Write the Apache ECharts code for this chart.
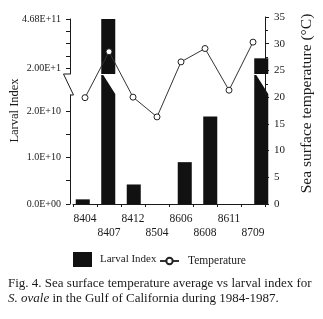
<!DOCTYPE html>
<html>
<head>
<meta charset="utf-8">
<script src="https://cdn.jsdelivr.net/npm/echarts@6/dist/echarts.min.js"></script>
<style>
html,body{margin:0;padding:0;background:#fff;}
#c{width:323px;height:319px;}
</style>
</head>
<body>
<div id="c"></div>
<script>
// ---- data ----
var categories = ['8404','8407','8412','8504','8606','8608','8611','8709'];
var larvalIndex = [1.0e9, 4.68e11, 4.2e9, 0, 9.0e9, 1.88e10, 0, 2.53e11];
var temperature = [19.9, 28.5, 20.0, 16.3, 26.6, 29.1, 21.3, 30.3];
var lowerLabelValues = [0, 1e10, 2e10];
var lowerLabelText = ['0.0E+00', '1.0E+10', '2.0E+10'];
var lowerTickValues = [0, 0.5e10, 1e10, 1.5e10, 2e10];
var upperLabelValues = [2.0e11, 4.68e11];
var upperLabelText = ['2.00E+1', '4.68E+11'];
var upperTickValues = [2.0e11, 2.67e11, 3.34e11, 4.01e11, 4.68e11];
var tempTicks = {min: 0, max: 35, interval: 5};
var lowerRange = {min: 0, max: 2.344e10};
var upperRange = {min: 1.672e11, max: 4.68e11};

var FONT = '"Liberation Serif", "Times New Roman", serif';
var INK = '#1a1a1a';

var chart = echarts.init(document.getElementById('c'), null, {renderer: 'canvas'});

function lookup(vals, texts) {
  return function (v) {
    for (var i = 0; i < vals.length; i++) {
      if (Math.abs(vals[i] - v) < 1) return texts[i];
    }
    return '';
  };
}

var axisLineStyle = {color: INK, width: 1};
var hiddenX = function (gi) {
  return {type: 'category', gridIndex: gi, data: categories, show: false, boundaryGap: true};
};

var option = {
  backgroundColor: '#fff',
  animation: false,
  textStyle: {fontFamily: FONT, color: INK},
  title: {
    left: 8, top: 276, padding: 0,
    text: 'Fig. 4. Sea surface temperature average vs larval index for\n{i|S. ovale} in the Gulf of California during 1984-1987.',
    textStyle: {
      fontFamily: FONT, fontWeight: 'normal', fontSize: 13, color: INK, lineHeight: 15,
      rich: {i: {fontStyle: 'italic', fontFamily: FONT, fontSize: 13, color: INK, lineHeight: 15}}
    }
  },
  legend: [
    {
      data: [{name: 'Larval Index', icon: 'rect'}], left: 73, top: 252, padding: 0,
      itemWidth: 19, itemHeight: 15,
      textStyle: {fontFamily: FONT, fontSize: 11, color: INK, padding: [0, 0, 0, 3]}
    },
    {
      data: ['Temperature'], left: 159, top: 255, padding: 0, itemWidth: 19, itemHeight: 8,
      textStyle: {fontFamily: FONT, fontSize: 11.5, color: INK, padding: [0, 0, 0, 4]}
    }
  ],
  grid: [
    {left: 70, right: 49, top: 95, height: 109},
    {left: 70, right: 49, top: 19, height: 55},
    {left: 70, right: 49, top: 17, height: 187}
  ],
  xAxis: [
    hiddenX(0),
    hiddenX(1),
    {
      type: 'category', gridIndex: 2, data: categories, boundaryGap: true,
      axisLine: {lineStyle: axisLineStyle},
      axisTick: {show: true, length: 3, lineStyle: {color: INK}},
      axisLabel: {
        interval: 0, margin: 8, fontSize: 11.5, fontFamily: FONT, color: INK, lineHeight: 14,
        formatter: function (v, i) { return i % 2 ? '\n' + v : v; }
      },
      splitLine: {show: false}
    }
  ],
  yAxis: [
    {
      type: 'value', gridIndex: 0, min: lowerRange.min, max: lowerRange.max,
      axisLine: {show: true, lineStyle: axisLineStyle},
      axisTick: {show: true, length: 4, customValues: lowerTickValues, lineStyle: {color: INK}},
      axisLabel: {
        customValues: lowerLabelValues, margin: 9, fontSize: 10, fontFamily: FONT, color: INK,
        formatter: lookup(lowerLabelValues, lowerLabelText)
      },
      splitLine: {show: false}
    },
    {
      type: 'value', gridIndex: 1, min: upperRange.min, max: upperRange.max,
      axisLine: {show: true, lineStyle: axisLineStyle},
      axisTick: {show: true, length: 4, customValues: upperTickValues, lineStyle: {color: INK}},
      axisLabel: {
        customValues: upperLabelValues, margin: 9, fontSize: 10, fontFamily: FONT, color: INK,
        formatter: lookup(upperLabelValues, upperLabelText)
      },
      splitLine: {show: false}
    },
    {
      type: 'value', gridIndex: 2, position: 'right',
      min: tempTicks.min, max: tempTicks.max, interval: tempTicks.interval,
      name: 'Sea surface temperature (°C)', nameLocation: 'middle', nameGap: 34, nameRotate: 90,
      nameTextStyle: {fontFamily: FONT, fontSize: 15.5, color: INK, padding: [0, 0, 0, 14]},
      axisLine: {show: true, lineStyle: axisLineStyle},
      axisTick: {show: true, length: 4, lineStyle: {color: INK}},
      minorTick: {show: true, splitNumber: 2, length: 3, lineStyle: {color: INK}},
      axisLabel: {margin: 9, fontSize: 11, fontFamily: FONT, color: INK},
      splitLine: {show: false}
    },
    {
      type: 'value', gridIndex: 2, position: 'left', min: 0, max: 1,
      name: 'Larval Index', nameLocation: 'middle', nameGap: 52, nameRotate: 90,
      nameTextStyle: {fontFamily: FONT, fontSize: 12.5, color: INK},
      axisLine: {show: false}, axisTick: {show: false}, axisLabel: {show: false},
      splitLine: {show: false}
    }
  ],
  series: [
    {
      name: 'Larval Index', type: 'bar', xAxisIndex: 0, yAxisIndex: 0,
      data: larvalIndex, barWidth: '55%', clip: true,
      itemStyle: {color: '#111'}
    },
    {
      name: 'Larval Index', type: 'bar', xAxisIndex: 1, yAxisIndex: 1,
      data: larvalIndex, barWidth: '55%', clip: true,
      itemStyle: {color: '#111'}
    },
    {
      name: 'Temperature', type: 'line', xAxisIndex: 2, yAxisIndex: 2,
      data: temperature, symbol: 'circle', symbolSize: 6,
      lineStyle: {color: '#333', width: 1},
      itemStyle: {color: '#fff', borderColor: '#222', borderWidth: 1}
    }
  ]
};

chart.setOption(option);

// ---- axis break decoration (positions from the library's scales) ----
var yBreakTop = chart.convertToPixel({yAxisIndex: 1}, upperRange.min);
var yBreakBot = chart.convertToPixel({yAxisIndex: 0}, lowerRange.max);
var xAxisPx = chart.convertToPixel({xAxisIndex: 0}, categories[0]);
var band = chart.convertToPixel({xAxisIndex: 0}, categories[1]) - xAxisPx;
var axisX = xAxisPx - band / 2;
var half = band * 0.55 / 2;
var graphics = [];
graphics.push({
  type: 'polyline', silent: true,
  shape: {points: [[axisX, yBreakTop], [axisX - 6.5, yBreakTop], [axisX + 3.5, yBreakBot], [axisX, yBreakBot]]},
  style: {stroke: INK, lineWidth: 1, fill: null}
});
for (var i = 0; i < categories.length; i++) {
  if (larvalIndex[i] >= upperRange.min) {
    var cx = chart.convertToPixel({xAxisIndex: 0}, categories[i]);
    graphics.push({
      type: 'polygon', silent: true,
      shape: {points: [[cx - half, yBreakTop + 1], [cx - half + 2, yBreakTop + 1], [cx + half, yBreakBot - 1], [cx + half, yBreakBot], [cx - half, yBreakBot]]},
      style: {fill: '#111'}
    });
  }
}
chart.setOption({graphic: graphics});
</script>
</body>
</html>
